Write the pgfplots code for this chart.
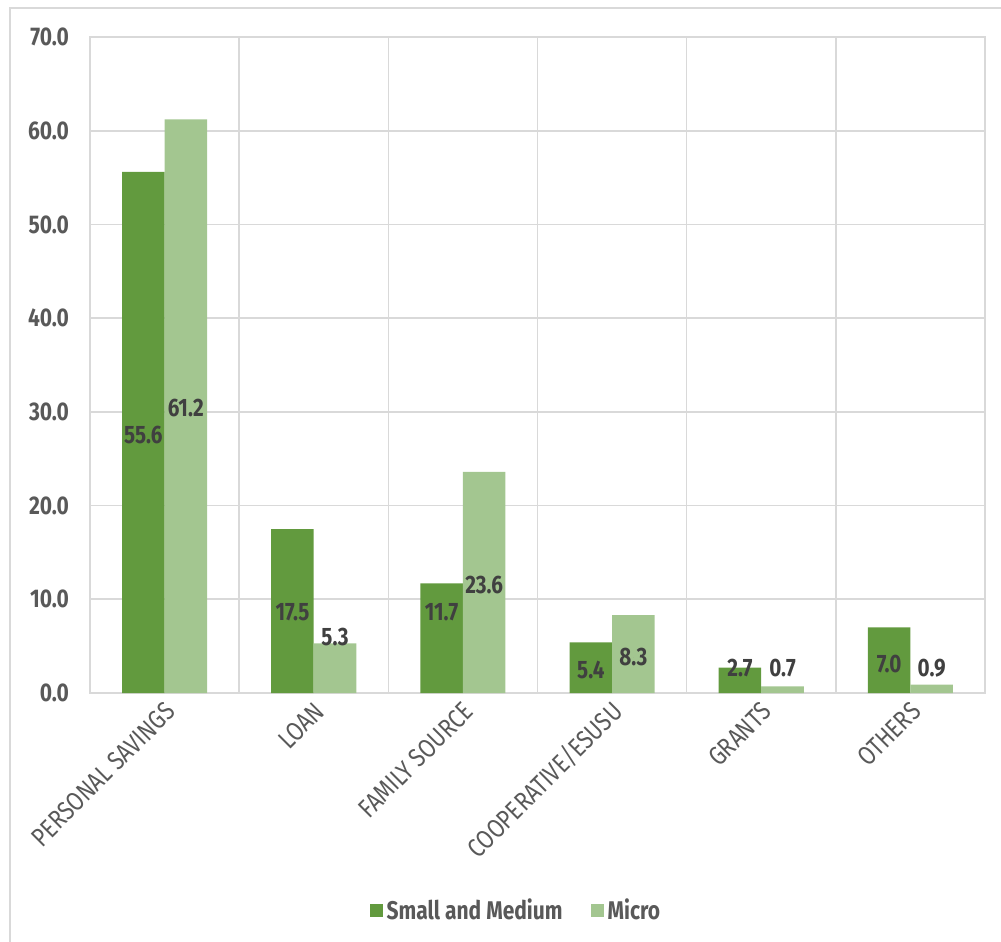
\documentclass[border=0pt]{standalone}
\usepackage{fontspec}
\setmainfont{Fira Sans}[FakeStretch=0.82]
\usepackage{pgfplots}
\pgfplotsset{compat=1.18}
\definecolor{dkg}{HTML}{629A3E}
\definecolor{ltg}{HTML}{A3C690}
\definecolor{gridc}{HTML}{D9D9D9}
\definecolor{tickc}{HTML}{595959}
\definecolor{labc}{HTML}{404040}
\begin{document}
\begin{tikzpicture}
\path[use as bounding box] (0,0) rectangle (500.5pt,471pt);
\draw[gridc, line width=1pt] (5pt,0) -- (5pt,467pt) -- (500.5pt,467pt);
\begin{axis}[
  at={(45pt,124.5pt)}, anchor=south west,
  scale only axis, width=447.5pt, height=328pt,
  xmin=-0.5, xmax=5.5, ymin=0, ymax=70,
  ytick={0,10,...,70},
  xtick={0,...,5},
  xticklabels={PERSONAL SAVINGS, LOAN, FAMILY SOURCE, COOPERATIVE/ESUSU, GRANTS, OTHERS},
  minor xtick={0.5,1.5,...,4.5},
  xminorgrids, ymajorgrids,
  grid style={gridc, line width=0.8pt},
  minor grid style={gridc, line width=0.8pt},
  axis line style={gridc, line width=1pt},
  major tick length=0pt, minor tick length=0pt,
  tick style={draw=none},
  /pgf/number format/assume math mode=true,
  yticklabel style={/pgf/number format/.cd, fixed, fixed zerofill, precision=1, /tikz/.cd,
    font=\fontsize{12.8}{14}\selectfont\bfseries, text=tickc, xshift=-7pt},
  xticklabel style={rotate=45, anchor=east, font=\fontsize{13.2}{15}\selectfont, text=tickc, xshift=0.5pt, yshift=-7pt},
  legend style={at={(0.477,-0.331)}, anchor=center, draw=none, legend columns=2,
    font=\fontsize{12.8}{14}\selectfont\bfseries, text=tickc,
    /tikz/every even column/.append style={column sep=12pt}},
  legend image code/.code={\fill[#1] (0pt,-3.2pt) rectangle (6.5pt,3.3pt);},
]
\addplot[ybar, bar width=0.285, bar shift=-0.1425, fill=dkg, draw=none]
  coordinates {(0,55.6) (1,17.5) (2,11.7) (3,5.4) (4,2.7) (5,7.0)};
\addplot[ybar, bar width=0.285, bar shift=0.1425, fill=ltg, draw=none]
  coordinates {(0,61.2) (1,5.3) (2,23.6) (3,8.3) (4,0.7) (5,0.9)};
\legend{Small and Medium, Micro}
\addplot[forget plot, only marks, mark=*, mark size=0pt, mark options={draw=none, fill=none},
  nodes near coords, point meta=explicit symbolic,
  every node near coord/.style={anchor=center, font=\fontsize{12.6}{14}\selectfont\bfseries, text=labc}]
  table[meta=lab] {
x y lab
-0.1425 27.5 55.6
0.1425 30.4 61.2
0.8575 8.6 17.5
1.1425 6.0 5.3
1.8575 8.6 11.7
2.1425 11.5 23.6
2.8575 2.5 5.4
3.1425 3.8 8.3
3.8575 2.7 2.7
4.1425 2.7 0.7
4.8575 3.1 7.0
5.1425 2.7 0.9
};
\end{axis}
\end{tikzpicture}
\end{document}
